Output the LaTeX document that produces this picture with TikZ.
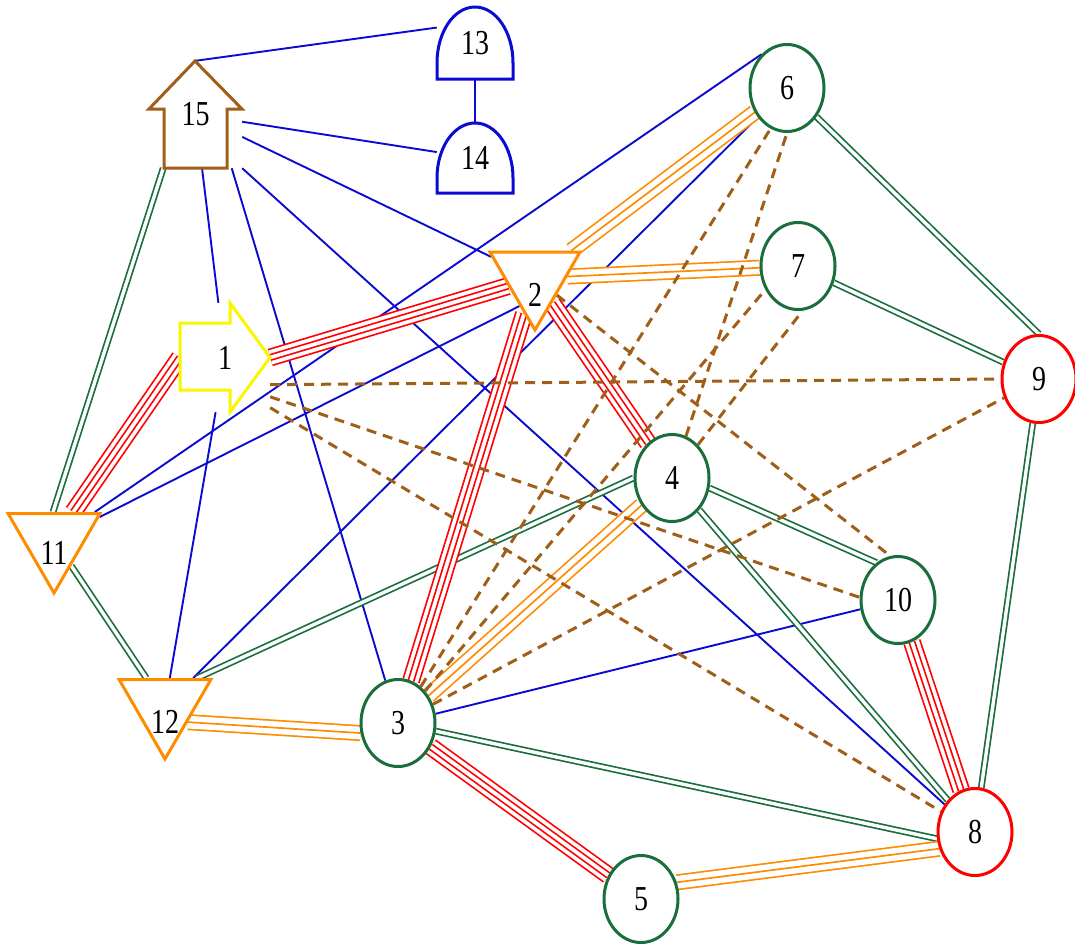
\documentclass[tikz,border=0pt]{standalone}
\usepackage{fontspec}
\usepackage{graphicx}
\setmainfont{Liberation Serif}
\usetikzlibrary{shapes.geometric}
\pgfdeclarelayer{bg}
\pgfsetlayers{bg,main}
\definecolor{gr}{RGB}{25,110,60}
\definecolor{orng}{RGB}{255,140,0}
\definecolor{rd}{RGB}{255,0,0}
\definecolor{bl}{RGB}{10,10,210}
\definecolor{brn}{RGB}{160,95,25}
\definecolor{ylw}{RGB}{250,245,0}
\newcommand\nlbl[1]{\scalebox{1}[1.25]{#1}}
\begin{document}
\begin{tikzpicture}[x=1pt,y=-1pt, font=\fontsize{28}{28}\selectfont,
 circ/.style={ellipse, draw=gr, fill=white, line width=3pt, minimum width=74pt, minimum height=87pt, inner sep=0pt},
 circr/.style={circ, draw=rd},
 tri/.style={regular polygon, regular polygon sides=3, shape border rotate=180, draw=orng, fill=white, line width=3pt, inner sep=0pt, minimum size=106pt},
 box/.style={rectangle, inner sep=0pt},
 outl/.style={fill=white, line width=3pt, line join=miter},
 bluee/.style={draw=bl, line width=1.9pt},
 greene/.style={draw=gr, line width=1.7pt, double=white, double distance=3.4pt},
 orangee/.style={draw=orng, line width=1.7pt, preaction={draw=orng, line width=16.1pt}, preaction={draw=white, line width=12.7pt}},
 rede/.style={draw=white, line width=3.7pt, preaction={draw=rd, line width=17.9pt}, preaction={draw=white, line width=14.5pt}, preaction={draw=rd, line width=7.1pt}},
 dashede/.style={draw=brn, line width=3pt, dash pattern=on 10pt off 7pt},
]
\useasboundingbox (0,0) rectangle (1075,946);

% custom outlines
\draw[outl, draw=ylw] (180,323) -- (230,323) -- (230,303) -- (270,357.5) -- (230,412) -- (230,390) -- (180,390) -- cycle;
\draw[outl, draw=brn] (164,168) -- (164,109) -- (149,109) -- (195,61) -- (242,109) -- (227,109) -- (227,168) -- cycle;
\draw[outl, draw=bl] (437,79) -- (437,63) .. controls (437,32) and (454,7) .. (475,7) .. controls (496,7) and (513,32) .. (513,63) -- (513,79) -- cycle;
\draw[outl, draw=bl] (437,193) -- (437,178) .. controls (437,147.6) and (454,123) .. (475,123) .. controls (496,123) and (513,147.6) .. (513,178) -- (513,193) -- cycle;

% nodes
\node[box, minimum width=90pt, minimum height=109pt] (n1) at (225,357.5) {\nlbl{1}};
\node[box, minimum width=93pt, minimum height=107pt] (n15) at (195.5,114.5) {\nlbl{15}};
\node[box, minimum width=76pt, minimum height=72pt] (n13) at (475,43) {\nlbl{13}};
\node[box, minimum width=76pt, minimum height=70pt] (n14) at (475,158) {\nlbl{14}};
\node[tri, minimum size=104pt, label={[yshift=-17pt]center:\nlbl{2}}] (n2) at (535,278) {};
\node[tri, label={[yshift=-13pt]center:\nlbl{11}}] (n11) at (54,540) {};
\node[tri, label={[yshift=-16pt]center:\nlbl{12}}] (n12) at (165,706) {};
\node[circ] (n3) at (398,723) {\nlbl{3}};
\node[circ] (n4) at (672,478) {\nlbl{4}};
\node[circ] (n5) at (641,899) {\nlbl{5}};
\node[circ] (n6) at (787,88) {\nlbl{6}};
\node[circ] (n7) at (798,266) {\nlbl{7}};
\node[circr] (n8) at (975,832) {\nlbl{8}};
\node[circr] (n9) at (1039,379) {\nlbl{9}};
\node[circ] (n10) at (898,600) {\nlbl{10}};

\begin{pgfonlayer}{bg}
% blue
\draw[bluee] (n15.north) -- (n13.158);
\draw[bluee] (n13) -- (n14);
\draw[bluee] (n15) -- (n14);
\draw[bluee] (n15) -- (n2);
\draw[bluee] (n15.south east) -- (n8);
\draw[bluee] (n15.-56) -- (n3);
\draw[bluee] (n15) -- (n1);
\draw[bluee] (n1) -- (n12);
\draw[bluee] (n11) -- (n6.127);
\draw[bluee] (n11) -- (n2.241);
\draw[bluee] (n12) -- (n6);
\draw[bluee] (n3) -- (n10);
% green
\draw[greene] (n15.239) -- (n11.92);
\draw[greene] (n11) -- (n12);
\draw[greene] (n12.41) -- (n4.180);
\draw[greene] (n4.-15) -- (n10.120);
\draw[greene] (n4) -- (n8);
\draw[greene] (n3) -- (n8.190);
\draw[greene] (n6) -- (n9.90);
\draw[greene] (n7) -- (n9);
\draw[greene] (n9) -- (n8);
% orange
\draw[orangee] (n2) -- (n6);
\draw[orangee] (n2) -- (n7);
\draw[orangee] (n12.-35) -- (n3.195);
\draw[orangee] (n3) -- (n4);
\draw[orangee] (n5.25) -- (n8.205);
% red
\draw[rede] (n1.east) -- (n2);
\draw[rede] (n1.west) -- (n11);
\draw[rede] (n2) -- (n3);
\draw[rede] (n2) -- (n4);
\draw[rede] (n3) -- (n5);
\draw[rede] (n10) -- (n8);
% dashed
\draw[dashede] (n1.-31) -- (n9.180);
\draw[dashede] (n1.-41) -- (n10.176);
\draw[dashede] (n1.-48) -- (n8);
\draw[dashede] (n2) -- (n10.100);
\draw[dashede] (n3) -- (n6.248);
\draw[dashede] (n3) -- (n7.216);
\draw[dashede] (n3) -- (n9);
\draw[dashede] (n4) -- (n6.270);
\draw[dashede] (n4) -- (n7.276);
\end{pgfonlayer}
\end{tikzpicture}
\end{document}
